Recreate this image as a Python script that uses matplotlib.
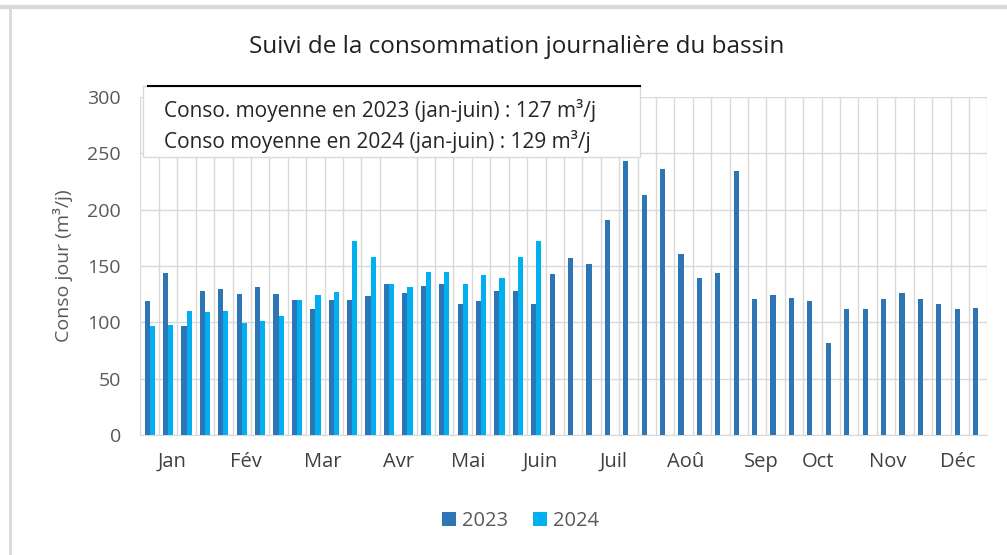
import matplotlib.pyplot as plt
import numpy as np
from matplotlib.patches import Rectangle
from matplotlib.lines import Line2D

plt.rcParams['font.family'] = ['Open Sans', 'DejaVu Sans']

title = "Suivi de la consommation journalière du bassin"
ylabel = "Conso jour (m³/j)"
note_2023 = "Conso. moyenne en 2023 (jan-juin) : 127 m³/j"
note_2024 = "Conso moyenne en 2024 (jan-juin) : 129 m³/j"
series_names = ["2023", "2024"]

values_2023 = [119, 144, 97, 128, 130, 125, 131, 125, 120, 112, 120, 120, 123, 134,
               126, 132, 134, 116, 119, 128, 128, 116,
               143, 157, 152, 191, 243, 213, 236, 161, 139, 144, 234, 121, 124,
               122, 119, 82, 112, 112, 121, 126, 121, 116, 112, 113]
values_2024 = [97, 98, 110, 109, 110, 99, 101, 106, 120, 124, 127, 172, 158, 134,
               131, 145, 145, 134, 142, 139, 158, 172]

months = ["Jan", "Fév", "Mar", "Avr", "Mai", "Juin", "Juil", "Aoû", "Sep", "Oct", "Nov", "Déc"]
month_pos = [1.2, 5.2, 9.4, 13.5, 17.3, 21.2, 25.2, 29.1, 33.2, 36.3, 40.1, 43.9]

c2023 = "#2E75B6"
c2024 = "#00B0F0"
txt = "#404040"

fig = plt.figure(figsize=(10.07, 5.55), dpi=100)
ax = fig.add_axes([0.1395, 0.2162, 0.841, 0.609])

n = len(values_2023)
x = np.arange(n)
w = 0.28
ax.bar(x - w / 2, values_2023, width=w, color=c2023, label=series_names[0], zorder=3)
x24 = np.arange(len(values_2024))
ax.bar(x24 + w / 2, values_2024, width=w, color=c2024, label=series_names[1], zorder=3)

ax.set_xlim(-0.5, n - 0.5)
ax.set_ylim(0, 300)
ax.set_yticks(np.arange(0, 301, 50))
ax.set_xticks(month_pos)
ax.set_xticklabels(months)
ax.set_xticks(np.arange(-0.5, n, 1), minor=True)
ax.tick_params(axis='x', which='both', length=0, pad=12, labelsize=14.5, colors=txt)
ax.tick_params(axis='y', length=0, pad=14, labelsize=14, colors="#595959")
ax.grid(axis='y', color="#D9D9D9", linewidth=1, zorder=0)
ax.grid(axis='x', which='minor', color="#D9D9D9", linewidth=1, zorder=0)
ax.grid(axis='x', which='major', visible=False)
for s in ["top", "right", "left"]:
    ax.spines[s].set_visible(False)
ax.spines["bottom"].set_color("#D9D9D9")
ax.set_ylabel(ylabel, fontsize=14, color="#595959", labelpad=10)

fig.text(0.513, 0.915, title, ha='center', va='center', fontsize=17.5, color="#202020")

# annotation box
W, H = 1007, 555
bx0, bx1, by0, by1 = 143, 640, 86, 157
fig.patches.append(Rectangle((bx0 / W, 1 - by1 / H), (bx1 - bx0) / W, (by1 - by0) / H,
                             transform=fig.transFigure, facecolor="white",
                             edgecolor="#D9D9D9", linewidth=1, zorder=5))
fig.lines.append(Line2D([148 / W, bx1 / W], [1 - by0 / H, 1 - by0 / H],
                        transform=fig.transFigure, color="black", linewidth=1.5, zorder=6))
fig.text(164 / W, 1 - 111 / H, note_2023, ha='left', va='center', fontsize=15, color="#262626", zorder=7)
fig.text(164 / W, 1 - 141 / H, note_2024, ha='left', va='center', fontsize=15, color="#262626", zorder=7)

# outer frame
fig.lines.append(Line2D([0, 1], [1 - 7 / H, 1 - 7 / H], transform=fig.transFigure,
                        color="#DADADA", linewidth=3))
fig.lines.append(Line2D([10 / W, 10 / W], [0, 1 - 7 / H], transform=fig.transFigure,
                        color="#DADADA", linewidth=2))

leg = fig.legend(loc='center', bbox_to_anchor=(0.517, 1 - 521 / H), ncol=2, frameon=False,
                 fontsize=14.5, handlelength=0.7, handleheight=0.7, columnspacing=1.2,
                 handletextpad=0.3)
for t in leg.get_texts():
    t.set_color("#595959")

fig.savefig("out.png", dpi=100)
